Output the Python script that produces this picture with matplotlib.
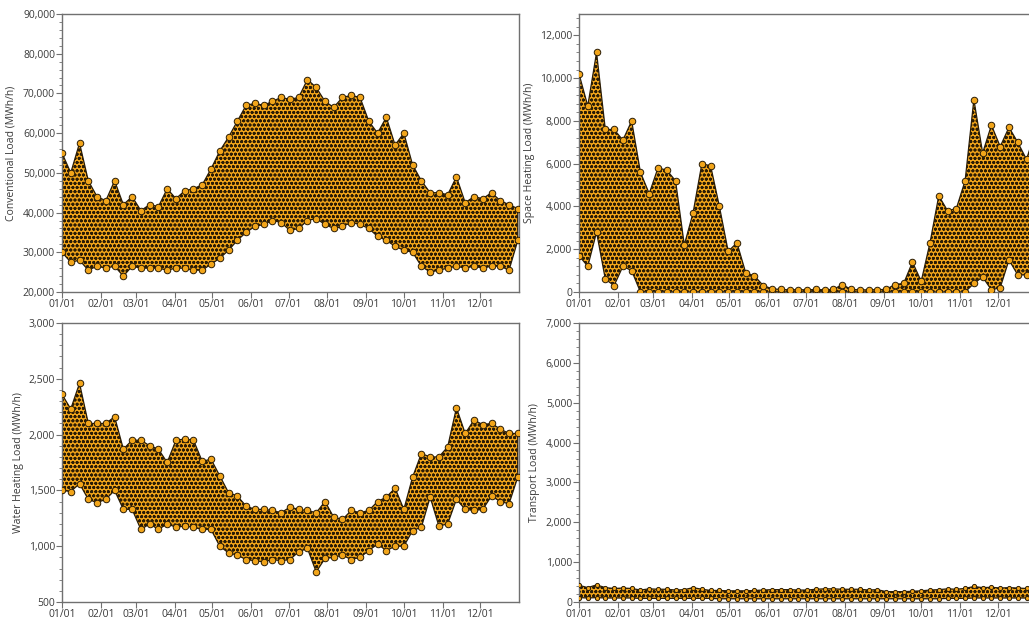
import matplotlib
matplotlib.use('Agg')
import matplotlib.pyplot as plt
import matplotlib.dates as mdates
from matplotlib.ticker import FuncFormatter, MultipleLocator
import pandas as pd

# weekly envelope of the hourly load (lowest / highest hour in each week), MWh/h
weeks = pd.date_range('2019-01-01', periods=53, freq='7D')

conv_low = [30000, 27500, 28000, 25500, 26500, 26000, 26500, 24000, 26500, 26000,
            26000, 26000, 25500, 26000, 26000, 25500, 25500, 27000, 28500, 30500,
            33000, 35000, 36500, 37000, 38000, 37500, 35500, 36000, 38000, 38500,
            37000, 36000, 36500, 37500, 37000, 36000, 34000, 33000, 31500, 30500,
            30000, 26500, 25000, 25500, 26000, 26500, 26000, 26500, 26000, 26500,
            26500, 25500, 33000]
conv_high = [55000, 50000, 57500, 48000, 44000, 43000, 48000, 42000, 44000, 40500,
             42000, 41500, 46000, 43500, 45500, 46000, 47000, 51000, 55500, 59000,
             63000, 67000, 67500, 67000, 68000, 69000, 68500, 69000, 73500, 71500,
             68000, 66500, 69000, 69500, 69000, 63000, 60000, 64000, 57000, 60000,
             52000, 48000, 45000, 45000, 44500, 49000, 42500, 44000, 43500, 45000,
             43000, 42000, 41000]

space_low = [1700, 1200, 2800, 600, 300, 1200, 1000, 0, 0, 0,
             0, 0, 0, 0, 0, 0, 0, 0, 0, 0,
             0, 0, 0, 0, 0, 0, 0, 0, 0, 0,
             0, 0, 0, 0, 0, 0, 0, 0, 0, 0,
             0, 0, 0, 0, 0, 400, 700, 100, 200, 1500,
             800, 800, 1500]
space_high = [10200, 8700, 11200, 7600, 7600, 7100, 8000, 5600, 4600, 5800,
              5700, 5200, 2200, 3700, 6000, 5900, 4000, 1900, 2300, 900,
              750, 300, 150, 120, 100, 110, 100, 120, 100, 120,
              350, 120, 100, 100, 110, 120, 350, 400, 1400, 500,
              2300, 4500, 3800, 3900, 5200, 9000, 6500, 7800, 6800, 7700,
              7000, 6200, 7500]

water_low = [1500, 1490, 1560, 1420, 1390, 1420, 1500, 1330, 1330, 1150,
             1200, 1150, 1200, 1170, 1180, 1170, 1150, 1150, 1000, 940,
             920, 880, 870, 860, 880, 870, 880, 950, 980, 770,
             890, 900, 920, 880, 900, 960, 1020, 960, 1000, 1000,
             1140, 1170, 1440, 1180, 1200, 1420, 1330, 1320, 1330, 1450,
             1400, 1380, 1620]
water_high = [2360, 2230, 2460, 2100, 2100, 2100, 2160, 1870, 1950, 1950,
              1900, 1870, 1750, 1950, 1960, 1950, 1760, 1780, 1630, 1480,
              1450, 1360, 1330, 1330, 1320, 1300, 1350, 1330, 1320, 1300,
              1400, 1260, 1240, 1320, 1300, 1320, 1400, 1440, 1520, 1330,
              1620, 1830, 1800, 1800, 1890, 2240, 2010, 2130, 2090, 2100,
              2050, 2010, 2010]

trans_low = [110, 100, 110, 100, 100, 100, 100, 90, 90, 90,
             90, 90, 90, 90, 90, 90, 80, 80, 80, 80,
             80, 80, 80, 80, 80, 80, 80, 80, 80, 80,
             80, 80, 80, 80, 80, 80, 80, 80, 80, 80,
             80, 80, 90, 90, 90, 100, 100, 100, 100, 100,
             100, 100, 100]
trans_high = [420, 360, 430, 360, 340, 350, 340, 300, 330, 320,
              320, 300, 310, 360, 320, 290, 290, 280, 280, 280,
              290, 300, 310, 310, 310, 300, 300, 320, 330, 330,
              320, 320, 320, 300, 310, 260, 260, 260, 270, 280,
              300, 310, 330, 320, 340, 390, 360, 370, 350, 360,
              350, 340, 350]

# label, low, high, y range, major step, minor step, marker size
panels = [
    ('Conventional Load (MWh/h)', conv_low, conv_high, (20000, 90000), 10000, 2000, 22),
    ('Space Heating Load (MWh/h)', space_low, space_high, (0, 13000), 2000, 400, 22),
    ('Water Heating Load (MWh/h)', water_low, water_high, (500, 3000), 500, 100, 22),
    ('Transport Load (MWh/h)', trans_low, trans_high, (0, 7000), 1000, 200, 9),
]

plt.rcParams['font.family'] = ['Open Sans', 'DejaVu Sans']
plt.rcParams['hatch.linewidth'] = 0.9

W, H = 1029, 619
fig = plt.figure(figsize=(W / 100, H / 100), dpi=100)

# pixel boxes (left, top, right, bottom); the right column runs past the edge
boxes = [(62, 14, 519, 292), (579, 14, 1036.5, 292),
         (62, 323, 519, 602), (579, 323, 1036.5, 602)]
label_x = [-0.0985, -0.0962, -0.0842, -0.0853]

orange = '#f2a51a'
edge = '#2a1c05'
spine = '#707070'
text = '#3a3a3a'

for (label, low, high, ylim, major, minor, ms), (l, t, r, b), lx in zip(panels, boxes, label_x):
    ax = fig.add_axes([l / W, (H - b) / H, (r - l) / W, (b - t) / H])

    ax.fill_between(weeks, low, high, facecolor=orange, edgecolor=edge,
                    hatch='oooo', linewidth=0.9, zorder=2)
    ax.scatter(weeks, low, s=ms, color=orange, edgecolor=edge, linewidth=0.7, zorder=3)
    ax.scatter(weeks, high, s=ms, color=orange, edgecolor=edge, linewidth=0.7, zorder=3)

    ax.set_xlim(pd.Timestamp('2019-01-01'), pd.Timestamp('2019-12-31 23:00'))
    ax.set_ylim(*ylim)
    ax.xaxis.set_major_locator(mdates.MonthLocator())
    ax.xaxis.set_major_formatter(mdates.DateFormatter('%m/%d'))
    ax.yaxis.set_major_locator(MultipleLocator(major))
    ax.yaxis.set_minor_locator(MultipleLocator(minor))
    ax.yaxis.set_major_formatter(FuncFormatter(lambda v, p: f'{v:,.0f}'))

    ax.set_ylabel(label, fontsize=7.5, color=text)
    ax.yaxis.set_label_coords(lx, 0.5)
    ax.tick_params(axis='both', which='major', labelsize=7.5, labelcolor=text,
                   color=spine, length=4, width=0.8, pad=1)
    ax.tick_params(axis='y', which='minor', color=spine, length=2, width=0.6)
    for s in ax.spines.values():
        s.set_color(spine)
        s.set_linewidth(1.0)

fig.savefig('out.png', dpi=100)
